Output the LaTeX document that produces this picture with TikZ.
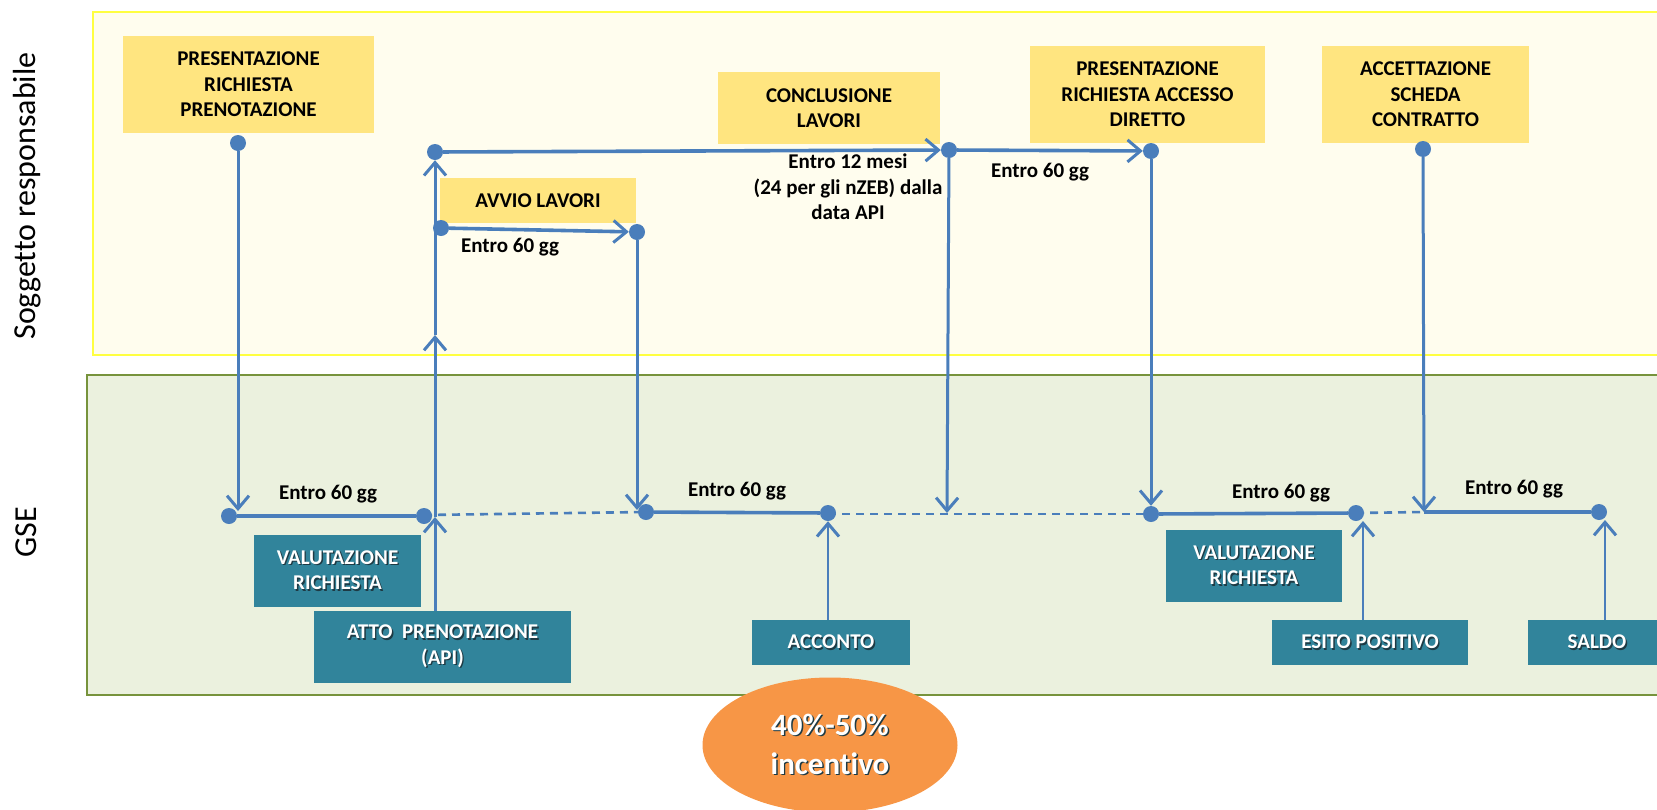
\documentclass[tikz,border=0pt]{standalone}
\usepackage{fontspec}
\setmainfont{Carlito}[Ligatures=NoCommon]
\usetikzlibrary{arrows.meta,shapes.geometric,calc}
\definecolor{lnblue}{HTML}{4A7EBB}
\definecolor{ypanelfill}{HTML}{FFFDEE}
\definecolor{ypanelline}{HTML}{FFFF40}
\definecolor{gpanelfill}{HTML}{EBF1DE}
\definecolor{gpanelline}{HTML}{77933C}
\definecolor{yboxfill}{HTML}{FFE580}
\definecolor{tealfill}{HTML}{31849B}
\definecolor{orangefill}{HTML}{F79646}
\definecolor{shadowc}{HTML}{1E3A44}
\newcommand\sh[1]{\makebox[0pt][l]{\hspace{1.4pt}\raisebox{-1.4pt}{\textcolor{shadowc}{#1}}}#1}
\begin{document}
\begin{tikzpicture}[x=1pt,y=-1pt,
  boxfont/.style={font=\fontsize{21}{25.5}\selectfont\bfseries},
  ybox/.style={boxfont, fill=yboxfill, inner sep=0pt, align=center, text=black},
  tbox/.style={boxfont, fill=tealfill, inner sep=0pt, align=center, text=white},
  dot/.style={circle, fill=lnblue, inner sep=0pt, minimum size=16pt},
  lbl/.style={boxfont, align=center, text=black, inner sep=0pt},
  tipA/.style={-{Straight Barb[length=13pt,width=22pt,line width=3pt]}},
  vline/.style={draw=lnblue, line width=3pt},
  vthin/.style={draw=lnblue, line width=2.6pt},
  hline/.style={draw=lnblue, line width=3.6pt},
  dline/.style={draw=lnblue, line width=2.6pt, dash pattern=on 8pt off 6pt},
  side/.style={rotate=90, font=\fontsize{32}{38}\selectfont, text=black}
]
\useasboundingbox (0,0) rectangle (1657,809);
% panels
\draw[fill=ypanelfill, draw=ypanelline, line width=2pt] (93,12) rectangle (1690,355);
\draw[fill=gpanelfill, draw=gpanelline, line width=1.5pt] (87,375) rectangle (1690,695);
% side labels
\node[side] (lblS) at (27,196) {Soggetto responsabile};
\node[side] (lblG) at (26,532) {GSE};
% yellow boxes
\node[ybox, minimum width=251pt, minimum height=97pt] (presreq) at (248.5,84.5) {PRESENTAZIONE\\RICHIESTA\\PRENOTAZIONE};
\node[ybox, minimum width=196pt, minimum height=45pt] (avvio) at (538,200.5) {AVVIO LAVORI};
\node[ybox, minimum width=222pt, minimum height=72pt] (concl) at (829,108) {CONCLUSIONE\\LAVORI};
\node[ybox, minimum width=235pt, minimum height=97pt] (presacc) at (1147.5,94.5) {PRESENTAZIONE\\RICHIESTA ACCESSO\\DIRETTO};
\node[ybox, minimum width=207pt, minimum height=97pt] (accett) at (1425.5,94.5) {ACCETTAZIONE\\SCHEDA\\CONTRATTO};
% teal boxes
\node[tbox, minimum width=167pt, minimum height=72pt] (val1) at (337.5,571) {\sh{VALUTAZIONE}\\\sh{RICHIESTA}};
\node[tbox, minimum width=257pt, minimum height=72pt] (atto) at (442.5,647) {\sh{ATTO~ PRENOTAZIONE}\\\sh{(API)}};
\node[tbox, minimum width=158pt, minimum height=45pt] (acconto) at (831,642.5) {\sh{ACCONTO}};
\node[tbox, minimum width=176pt, minimum height=72pt] (val2) at (1254,566) {\sh{VALUTAZIONE}\\\sh{RICHIESTA}};
\node[tbox, minimum width=196pt, minimum height=45pt] (esito) at (1370,642.5) {\sh{ESITO POSITIVO}};
\node[tbox, minimum width=138pt, minimum height=45pt] (saldo) at (1597,642.5) {\sh{SALDO}};
% orange ellipse
\node[ellipse, fill=orangefill, minimum width=255pt, minimum height=135pt, inner sep=0pt,
      font=\fontsize{31}{39}\selectfont\bfseries, text=white, align=center] (inc) at (830,745) {\sh{40\%-50\%}\\\sh{incentivo}};
% coordinates
\coordinate (a1) at (238,511);
\coordinate (u1) at (435,517);
\coordinate (u2) at (435,335);
\coordinate (a3) at (637,510);
\coordinate (cW) at (947,513);
\coordinate (cX) at (1424,512);
\coordinate (e6) at (1363,521);
\coordinate (e7) at (1605,520);
% dashed lines (under the dots)
\draw[dline] (424,515) -- (646,512);
\draw[dline] (828,514) -- (1151,514);
\draw[dline] (1356,513) -- (cX);
% dots
\node[dot] (dA) at (238,143) {};
\node[dot] (dB) at (435,152) {};
\node[dot] (dC) at (441,228) {};
\node[dot] (dD) at (637,232) {};
\node[dot] (dE) at (949,150) {};
\node[dot] (dF) at (1151,151) {};
\node[dot] (dG) at (1423,149) {};
\node[dot] (g1) at (229,516) {};
\node[dot] (g2) at (424,516) {};
\node[dot] (g3) at (646,512) {};
\node[dot] (g4) at (828,513) {};
\node[dot] (g5) at (1151,514) {};
\node[dot] (g6) at (1356,513) {};
\node[dot] (g7) at (1599,512) {};
% GSE solid lines
\draw[hline] (g1) -- (g2);
\draw[hline] (g3) -- (g4);
\draw[hline] (g5) -- (g6);
\draw[hline] (cX) -- (g7);
% top horizontal arrows
\draw[hline, tipA] (dB) -- (dE);
\draw[hline, tipA] (dC) -- (dD);
\draw[hline, tipA] (dE) -- (dF);
% vertical down arrows
\draw[vline, tipA] (dA) -- (a1);
\draw[vline, tipA] (dD) -- (a3);
\draw[vline, tipA] (dE) -- (cW);
\draw[vline, tipA] (dF) -- (g5);
\draw[vline, tipA] (dG) -- (cX);
% vertical up arrows
\draw[vline, tipA] (atto.north -| u1) -- (u1);
\draw[vline, tipA] (u1) -- (u2);
\draw[vline, tipA] (u2) -- (dB);
\draw[vthin, tipA] (acconto.north -| g4) -- (g4);
\draw[vthin, tipA] (esito.north -| e6) -- (e6);
\draw[vthin, tipA] (saldo.north -| e7) -- (e7);
% labels
\node[lbl] (l1) at (328,494) {Entro 60 gg};
\node[lbl] (l2) at (510,247) {Entro 60 gg};
\node[lbl] (l3) at (848,187) {Entro 12 mesi\\(24 per gli nZEB) dalla\\data API};
\node[lbl] (l4) at (1040,172) {Entro 60 gg};
\node[lbl] (l5) at (737,491) {Entro 60 gg};
\node[lbl] (l6) at (1281,493) {Entro 60 gg};
\node[lbl] (l7) at (1514,489) {Entro 60 gg};
\end{tikzpicture}
\end{document}
